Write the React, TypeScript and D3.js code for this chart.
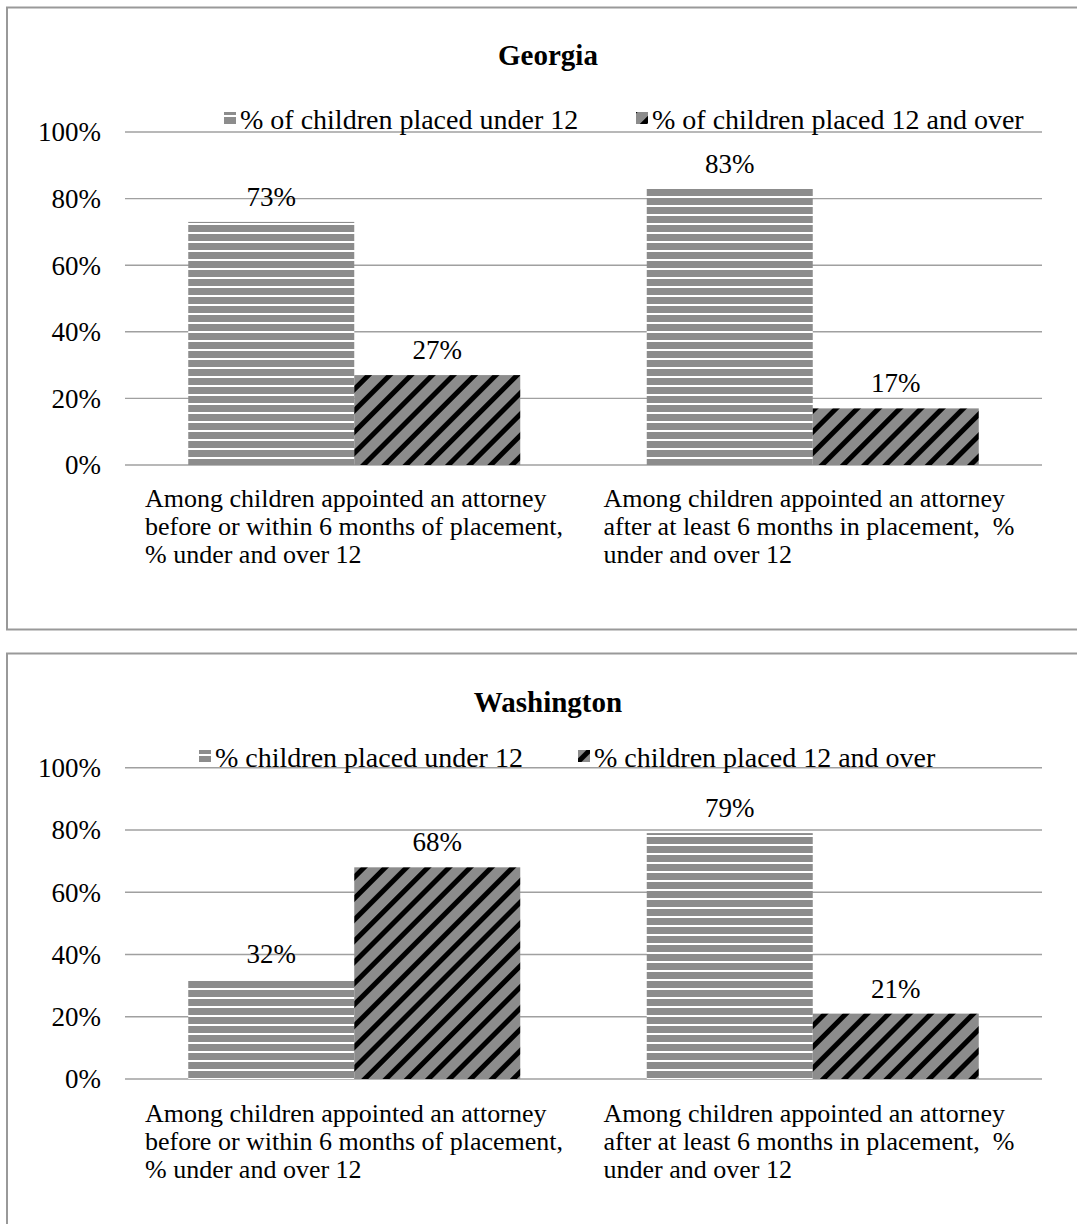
import React from 'react';
import * as d3 from 'd3';

// Values (percent)
const categories = ['before', 'after'];
const categoryLines: string[][] = [
  ['Among children appointed an attorney', 'before or within 6 months of placement,', '% under and over 12'],
  ['Among children appointed an attorney', 'after at least 6 months in placement,  %', 'under and over 12'],
];
const seriesKeys = ['under', 'over'];
const georgiaUnder = [73, 83];
const georgiaOver = [27, 17];
const washingtonUnder = [32, 79];
const washingtonOver = [68, 21];
const georgiaLegend = ['% of children placed under 12', '% of children placed 12 and over'];
const washingtonLegend = ['% children placed under 12', '% children placed 12 and over'];
const yTicks = [0, 20, 40, 60, 80, 100];

const FONT = '"Liberation Serif", "Times New Roman", serif';
const GRID = '#a0a0a0';

interface PanelProps {
  id: string;
  title: string;
  legend: string[];
  under: number[];
  over: number[];
  boxTop: number;
  boxHeight: number;
  titleY: number;
  legendY: number;
  legendX: number[];
  yTop: number;
  yBottom: number;
  labelY: number;
}

function Panel(p: PanelProps) {
  const left = 125;
  const right = 1042;
  const x0 = d3.scaleBand<string>().domain(categories).range([left, right]).padding(0);
  const x1 = d3.scaleBand<string>().domain(seriesKeys).range([0, x0.bandwidth()]).paddingInner(0).paddingOuter(0.381);
  const y = d3.scaleLinear().domain([0, 100]).range([p.yBottom, p.yTop]);
  const fills: Record<string, string> = { under: `url(#hstripe-${p.id})`, over: `url(#dstripe-${p.id})` };

  return (
    <g>
      <defs>
        <pattern id={`hstripe-${p.id}`} patternUnits="userSpaceOnUse" width={10} height={9}>
          <rect width={10} height={9} fill="#8c8c8c" />
          <rect y={7} width={10} height={2} fill="#ffffff" />
        </pattern>
        <pattern id={`dstripe-${p.id}`} patternUnits="userSpaceOnUse" width={15} height={15} patternTransform="rotate(45)">
          <rect width={15} height={15} fill="#8c8c8c" />
          <rect width={5} height={15} fill="#000000" />
        </pattern>
      </defs>
      <rect x={7} y={p.boxTop} width={1080} height={p.boxHeight} fill="#fff" stroke="#999" strokeWidth={2} />
      <text x={548} y={p.titleY} textAnchor="middle" fontFamily={FONT} fontWeight="bold" fontSize={29}>{p.title}</text>

      {yTicks.map(t => (
        <g key={t}>
          <line x1={left} x2={right} y1={y(t)} y2={y(t)} stroke={GRID} strokeWidth={1.4} />
          <text x={101} y={y(t)} dy="0.35em" textAnchor="end" fontFamily={FONT} fontSize={27}>{t}%</text>
        </g>
      ))}

      {/* legend */}
      {p.legend.map((l, i) => (
        <g key={l}>
          <rect x={p.legendX[i]} y={p.legendY - 7} width={12} height={12} fill={fills[seriesKeys[i]]} />
          <text x={p.legendX[i] + 16} y={p.legendY} dy="0.35em" fontFamily={FONT} fontSize={28}>{l}</text>
        </g>
      ))}

      {categories.map((c, ci) => {
        const vals: Record<string, number> = { under: p.under[ci], over: p.over[ci] };
        return (
          <g key={c} transform={`translate(${x0(c)},0)`}>
            {seriesKeys.map(k => (
              <g key={k}>
                <rect x={x1(k)} y={y(vals[k])} width={x1.bandwidth()} height={y(0) - y(vals[k])} fill={fills[k]} />
                <text x={(x1(k) as number) + x1.bandwidth() / 2} y={y(vals[k]) - 16} textAnchor="middle" fontFamily={FONT} fontSize={27}>{vals[k]}%</text>
              </g>
            ))}
            {categoryLines[ci].map((line, li) => (
              <text key={li} x={20} y={p.labelY + li * 28} fontFamily={FONT} fontSize={26} style={{ whiteSpace: 'pre' }}>{line}</text>
            ))}
          </g>
        );
      })}
    </g>
  );
}

export default function App() {
  return (
    <svg width={1077} height={1224} style={{ position: 'absolute', left: 0, top: 0, background: '#fff' }}>
      <rect width={1077} height={1224} fill="#fff" />
      <Panel id="ga" title="Georgia" legend={georgiaLegend} under={georgiaUnder} over={georgiaOver}
        boxTop={7.5} boxHeight={622} titleY={65} legendY={119} legendX={[224, 636]}
        yTop={132} yBottom={465} labelY={507} />
      <Panel id="wa" title="Washington" legend={washingtonLegend} under={washingtonUnder} over={washingtonOver}
        boxTop={653.5} boxHeight={600} titleY={712} legendY={757} legendX={[199, 578]}
        yTop={767.7} yBottom={1079} labelY={1122} />
    </svg>
  );
}
